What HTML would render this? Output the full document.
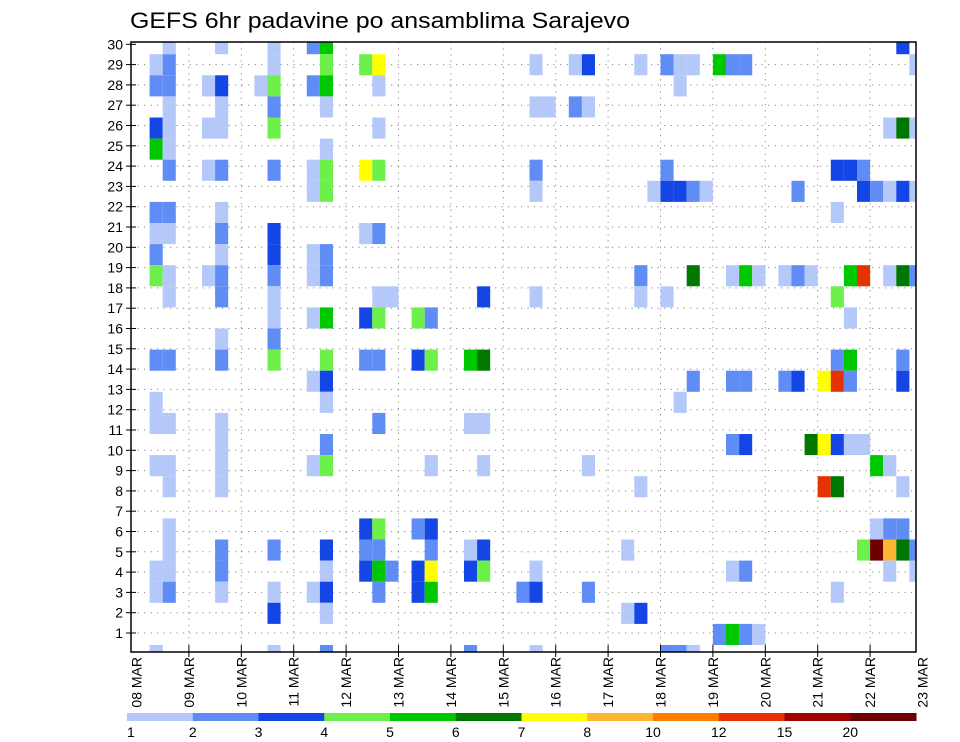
<!DOCTYPE html>
<html><head><meta charset="utf-8"><style>
html,body{margin:0;padding:0;background:#fff;}
svg{display:block;font-family:"Liberation Sans",sans-serif;}
</style></head><body>
<svg id="chart" width="960" height="742" viewBox="0 0 960 742">
<defs><clipPath id="pc"><rect x="131" y="42" width="785" height="610"/></clipPath></defs>
<text x="130" y="28" font-size="22" textLength="500" lengthAdjust="spacingAndGlyphs">GEFS 6hr padavine po ansamblima Sarajevo</text>
<g id="grid"></g>
<g id="cells" clip-path="url(#pc)"></g>
<rect x="131" y="42" width="785" height="610" fill="none" stroke="#000" stroke-width="1.5"/>
<g id="yaxis"></g>
<g id="xaxis"></g>
<g id="legend"></g>
</svg>
<script>
// categories
const dayLabels = ["08 MAR","09 MAR","10 MAR","11 MAR","12 MAR","13 MAR","14 MAR","15 MAR","16 MAR","17 MAR","18 MAR","19 MAR","20 MAR","21 MAR","22 MAR","23 MAR"];
const memberLabels = [1,2,3,4,5,6,7,8,9,10,11,12,13,14,15,16,17,18,19,20,21,22,23,24,25,26,27,28,29,30];
const legendThresholds = [1,2,3,4,5,6,7,8,10,12,15,20];
const legendColors = ["#b4c8fa","#5f8cf5","#1446e6","#6ef04b","#00c800","#007800","#ffff00","#ffb432","#ff7d00","#e63200","#a00000","#6e0000"];
// cell data: row index (0 bottom), 6-hour step column, precipitation mm
const cellRow = [
29,29,29,29,29,29,
28,28,28,28,28,28,28,28,28,28,28,28,28,28,28,28,28,
27,27,27,27,27,27,27,27,27,27,
26,26,26,26,26,26,26,26,
25,25,25,25,25,25,25,25,25,
24,24,24,
23,23,23,23,23,23,23,23,23,23,23,23,23,
22,22,22,22,22,22,22,22,22,22,22,22,22,22,
21,21,21,21,
20,20,20,20,20,20,
19,19,19,19,19,
18,18,18,18,18,18,18,18,18,18,18,18,18,18,18,18,18,18,18,18,
17,17,17,17,17,17,17,17,17,17,
16,16,16,16,16,16,16,16,
15,15,
14,14,14,14,14,14,14,14,14,14,14,14,14,14,
13,13,13,13,13,13,13,13,13,13,13,
12,12,12,
11,11,11,11,11,11,
10,10,10,10,10,10,10,10,10,
9,9,9,9,9,9,9,9,9,9,
8,8,8,8,8,8,
6,6,6,6,6,6,6,6,
5,5,5,5,5,5,5,5,5,5,5,5,5,5,5,
4,4,4,4,4,4,4,4,4,4,4,4,4,4,4,4,
3,3,3,3,3,3,3,3,3,3,3,3,3,
2,2,2,2,
1,1,1,1,
0,0,0,0,0,0,0,0
];
const cellCol = [
2,6,10,13,14,58,
1,2,10,14,17,18,30,33,34,38,40,41,42,44,45,46,59,
1,2,5,6,9,10,13,14,18,41,
2,6,10,14,30,31,33,34,
1,2,5,6,10,18,57,58,59,
1,2,14,
2,5,6,10,13,14,17,18,30,40,53,54,55,
13,14,30,39,40,41,42,43,50,55,56,57,58,59,
1,2,6,53,
1,2,6,10,17,18,
1,6,10,13,14,
1,2,5,6,10,13,14,38,42,45,46,47,49,50,51,54,55,57,58,59,
2,6,10,18,19,26,30,38,40,53,
10,13,14,17,18,21,22,54,
6,10,
1,2,6,10,14,17,18,21,22,25,26,53,54,58,
13,14,42,45,46,49,50,52,53,54,58,
1,14,41,
1,2,6,18,25,26,
6,14,45,46,51,52,53,54,55,
1,2,6,13,14,22,26,34,56,57,
2,6,38,52,53,58,
2,17,18,21,22,56,57,58,
2,6,10,14,17,18,22,25,26,37,55,56,57,58,59,
1,2,6,14,17,18,19,21,22,25,26,30,45,46,57,59,
1,2,6,10,13,14,18,21,22,29,30,34,53,
10,14,37,38,
44,45,46,47,
1,10,14,25,30,40,41,42
];
const cellVal = [
1.5,1.5,1.5,2.5,5.5,3.5,
1.5,2.5,1.5,4.5,4.5,7.5,1.5,1.5,3.5,1.5,2.5,1.5,1.5,5.5,2.5,2.5,1.5,
2.5,2.5,1.5,3.5,1.5,4.5,2.5,5.5,1.5,1.5,
1.5,1.5,2.5,1.5,1.5,1.5,2.5,1.5,
3.5,1.5,1.5,1.5,4.5,1.5,1.5,6.5,1.5,
5.5,1.5,1.5,
2.5,1.5,2.5,2.5,1.5,4.5,7.5,4.5,2.5,2.5,3.5,3.5,2.5,
1.5,4.5,1.5,1.5,3.5,3.5,2.5,1.5,2.5,3.5,2.5,1.5,3.5,1.5,
2.5,2.5,1.5,1.5,
1.5,1.5,2.5,3.5,1.5,2.5,
2.5,1.5,3.5,1.5,2.5,
4.5,1.5,1.5,2.5,2.5,1.5,2.5,2.5,6.5,1.5,5.5,1.5,1.5,2.5,1.5,5.5,13.5,1.5,6.5,2.5,
1.5,2.5,1.5,1.5,1.5,3.5,1.5,1.5,1.5,4.5,
1.5,1.5,5.5,3.5,4.5,4.5,2.5,1.5,
1.5,2.5,
2.5,2.5,2.5,4.5,4.5,2.5,2.5,3.5,4.5,5.5,6.5,2.5,5.5,2.5,
1.5,3.5,2.5,2.5,2.5,2.5,3.5,7.5,13.5,2.5,3.5,
1.5,1.5,1.5,
1.5,1.5,1.5,2.5,1.5,1.5,
1.5,2.5,2.5,3.5,6.5,7.5,3.5,1.5,1.5,
1.5,1.5,1.5,1.5,4.5,1.5,1.5,1.5,5.5,1.5,
1.5,1.5,1.5,13.5,6.5,1.5,
1.5,3.5,4.5,2.5,3.5,1.5,2.5,2.5,
1.5,2.5,2.5,3.5,2.5,2.5,2.5,1.5,3.5,1.5,4.5,22,9,6.5,2.5,
1.5,1.5,2.5,1.5,3.5,5.5,2.5,3.5,7.5,3.5,4.5,1.5,1.5,2.5,1.5,1.5,
1.5,2.5,1.5,1.5,1.5,3.5,2.5,3.5,5.5,2.5,3.5,2.5,1.5,
3.5,1.5,1.5,3.5,
2.5,5.5,2.5,1.5,
1.5,1.5,2.5,2.5,1.5,2.5,2.5,1.5
];

const NS = "http://www.w3.org/2000/svg";
function mk(tag, attrs, parent){ const e=document.createElementNS(NS,tag); for(const k in attrs) e.setAttribute(k,attrs[k]); parent.appendChild(e); return e; }
// axis functions
const COLW = 13.1, X0 = 136.5, ROWH = 21.1, YB = 645;
function xCol(c){ return X0 + COLW*c; }
function yRowTop(r){ return YB - ROWH*r; }
function xDay(d){ return X0 + 4*COLW*d; }
function yMember(m){ return 633 - (m-1)*20.3; }
function colorFor(v){ let i=-1; for(let k=0;k<legendThresholds.length;k++){ if(v>=legendThresholds[k]) i=k; } return i<0?null:legendColors[i]; }

const grid = document.getElementById('grid');
memberLabels.forEach(m=>{
  if(m===30) return;
  const l = mk('line',{x1:131,x2:916,y1:yMember(m),y2:yMember(m),stroke:'#888','stroke-width':1,'stroke-dasharray':'1.2,5.3'},grid);
  
  
});
for(let d=1; d<dayLabels.length-1; d++){
  const l = mk('line',{x1:xDay(d),x2:xDay(d),y1:42,y2:652,stroke:'#888','stroke-width':1,'stroke-dasharray':'1.2,5'},grid);
  
  
}

const cg = document.getElementById('cells');
for(let i=0;i<cellVal.length;i++){
  const c = colorFor(cellVal[i]); if(!c) continue;
  const r = mk('rect',{x:xCol(cellCol[i]),y:yRowTop(cellRow[i]),width:COLW,height:ROWH,fill:c},cg);
  
  
}

const ya = document.getElementById('yaxis');
memberLabels.forEach(m=>{
  const y = yMember(m);
  const t = mk('line',{x1:126,x2:136,y1:y,y2:y,stroke:'#000','stroke-width':1},ya);
  
  
  const tx = mk('text',{x:123,y:y+5,'font-size':14,'text-anchor':'end'},ya);
  tx.textContent = m;
  
  
});

const xa = document.getElementById('xaxis');
dayLabels.forEach((lab,d)=>{
  const x = xDay(d);
  if(d>0 && d<dayLabels.length-1){
    const t = mk('line',{x1:x,x2:x,y1:645,y2:657,stroke:'#000','stroke-width':1},xa);
    
    
  }
  const tx = mk('text',{x:0,y:0,'font-size':14,'text-anchor':'end',transform:`translate(${x+5},657) rotate(-90)`},xa);
  tx.textContent = lab;
  
  
});

const lg = document.getElementById('legend');
const LX0 = 127, LW = (916-127)/legendColors.length;
legendColors.forEach((c,i)=>{
  const r = mk('rect',{x:LX0+i*LW,y:713,width:LW+0.5,height:8,fill:c},lg);
  
  
});
legendThresholds.forEach((v,i)=>{
  const tx = mk('text',{x:LX0+i*LW,y:737,'font-size':14,'text-anchor':i===0?'start':'middle'},lg);
  tx.textContent = v;
  
  
});
</script>
</body></html>
